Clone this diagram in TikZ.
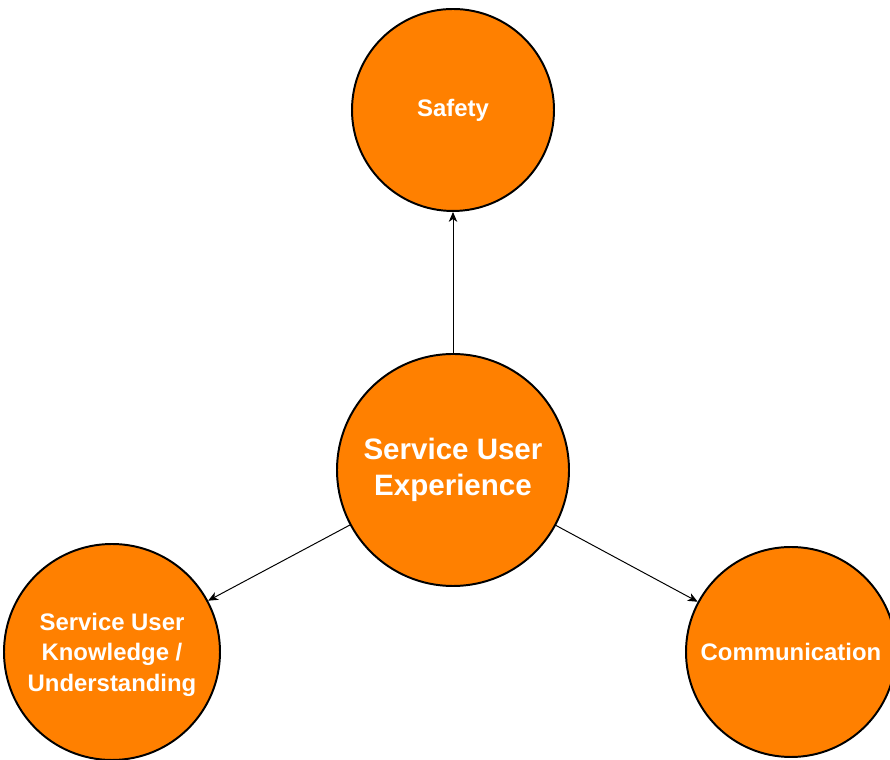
\documentclass[tikz,border=0pt]{standalone}
\usepackage{fontspec}
\setmainfont{Liberation Sans}
\usepackage{xcolor}
\definecolor{myorange}{RGB}{255,128,0}
\usetikzlibrary{positioning,arrows.meta}

\begin{document}
\begin{tikzpicture}[
    bubble/.style={circle,draw=black,line width=1.4pt,fill=myorange,text=white,
        font=\bfseries\fontsize{17}{21.7}\selectfont,align=center,inner sep=0pt},
    link/.style={-{Stealth[length=7pt,width=6pt,inset=2pt]},line width=0.7pt,black}]
            \useasboundingbox (0,0) rectangle (22.25,19);
            \node[bubble,minimum size=5.8cm,font=\bfseries\fontsize{21}{25.6}\selectfont] (experience) at (11.325,7.25) {Service User\\Experience};
            \node[bubble,minimum size=5.05cm] (safety) at (11.325,16.25) {Safety};
            \node[bubble,minimum size=5.4cm,text depth=-0.25cm] (knowledge) at (2.8,2.7) {Service User\\Knowledge /\\Understanding};
            \node[bubble,minimum size=5.25cm] (communication) at (19.775,2.7) {Communication};
            \draw[link] (experience) -- (safety);
            \draw[link] (experience) -- (knowledge);
            \draw[link] (experience) -- (communication);
        \end{tikzpicture}
\end{document}
